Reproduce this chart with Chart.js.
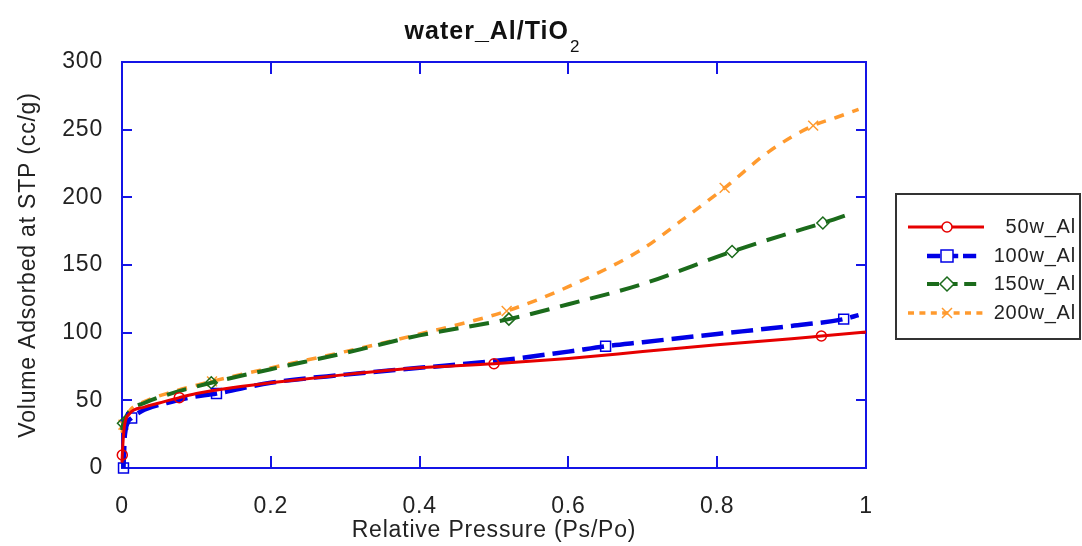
<!DOCTYPE html>
<html>
<head>
<meta charset="utf-8">
<script src="https://cdn.jsdelivr.net/npm/chart.js@4.4.1/dist/chart.umd.min.js"></script>
<style>
  html, body { margin: 0; padding: 0; background: #fff; }
</style>
</head>
<body>
<canvas id="chart" width="1082" height="546"></canvas>
<script>
// values
const seriesNames = ['50w_Al', '100w_Al', '150w_Al', '200w_Al'];

const x50 = [0, 0.0004, 0.003, 0.01, 0.03, 0.05, 0.077, 0.1, 0.15, 0.2, 0.3, 0.4, 0.5, 0.6, 0.7, 0.8, 0.9, 0.94, 1.0];
const y50 = [4, 9.6, 30, 40, 45, 48, 52, 55, 59.5, 63, 69, 74, 77, 81, 86, 91, 95.5, 97.5, 100.5];
const mk50 = [1, 6, 12, 17];

const x100 = [0.002, 0.004, 0.013, 0.03, 0.06, 0.09, 0.127, 0.2, 0.3, 0.4, 0.5, 0.6, 0.65, 0.7, 0.8, 0.9, 0.97, 0.99];
const y100 = [0, 25, 37, 43, 48, 52, 55, 63, 69, 74, 79, 86, 90, 93, 99, 105, 110, 113];
const mk100 = [0, 2, 6, 12, 16];

const x150 = [0, 0.002, 0.01, 0.03, 0.06, 0.12, 0.2, 0.3, 0.4, 0.52, 0.6, 0.7, 0.82, 0.9, 0.942, 0.985];
const y150 = [28, 33, 42, 48, 54, 63, 73, 85, 98, 110, 121, 136, 160, 174, 181, 189];
const mk150 = [1, 5, 9, 12, 14];

const x200 = [0, 0.002, 0.01, 0.03, 0.06, 0.121, 0.2, 0.3, 0.4, 0.517, 0.6, 0.7, 0.75, 0.81, 0.87, 0.929, 0.96, 0.99];
const y200 = [26, 32, 42, 49, 55, 64, 74, 86, 99, 116, 134, 162, 182, 207, 234, 253, 259, 265];
const mk200 = [1, 5, 9, 13, 15];

const xTicks = [0, 0.2, 0.4, 0.6, 0.8, 1];
const yTicks = [0, 50, 100, 150, 200, 250, 300];

const FONT = '"Liberation Sans", Arial, sans-serif';
const TEXT = '#222';
const FRAME = '#1414e6';

function pts(xs, ys) {
  return xs.map((x, i) => ({ x: x, y: ys[i] }));
}
function radii(n, marks, r) {
  const out = new Array(n).fill(0);
  marks.forEach(i => out[i] = r);
  return out;
}

const styles = [
  { color: '#e60000', width: 3, dash: [], point: 'circle', r: 5 },
  { color: '#0000e6', width: 4.5, dash: [22, 8], point: 'rect', r: 7 },
  { color: '#1b6b1b', width: 4, dash: [20, 11], point: 'rectRot', r: 6 },
  { color: '#ff9a2e', width: 3.5, dash: [10, 9], point: 'crossRot', r: 7 }
];
const xs = [x50, x100, x150, x200];
const ys = [y50, y100, y150, y200];
const mks = [mk50, mk100, mk150, mk200];

const datasets = seriesNames.map((name, k) => ({
  label: name,
  data: pts(xs[k], ys[k]),
  borderColor: styles[k].color,
  borderWidth: styles[k].width,
  borderDash: styles[k].dash,
  cubicInterpolationMode: 'monotone',
  pointStyle: styles[k].point,
  pointRadius: radii(xs[k].length, mks[k], styles[k].r),
  pointBorderColor: styles[k].color,
  pointBackgroundColor: 'rgba(255,255,255,0)',
  pointBorderWidth: 1.5,
  clip: false,
  fill: false
}));

// frame, inward tick marks, titles and the boxed legend
const decor = {
  id: 'decor',
  beforeDraw(chart) {
    chart.ctx.letterSpacing = '0.8px';
  },
  beforeDatasetsDraw(chart) {
    const ctx = chart.ctx;
    const a = chart.chartArea;
    const sx = chart.scales.x, sy = chart.scales.y;
    ctx.save();
    ctx.strokeStyle = FRAME;
    ctx.lineWidth = 2;
    ctx.strokeRect(a.left, a.top, a.right - a.left, a.bottom - a.top);
    ctx.beginPath();
    yTicks.forEach(v => {
      const py = Math.round(sy.getPixelForValue(v));
      ctx.moveTo(a.left, py); ctx.lineTo(a.left + 10, py);
      ctx.moveTo(a.right, py); ctx.lineTo(a.right - 10, py);
    });
    xTicks.forEach(v => {
      const px = Math.round(sx.getPixelForValue(v));
      ctx.moveTo(px, a.bottom); ctx.lineTo(px, a.bottom - 12);
      ctx.moveTo(px, a.top); ctx.lineTo(px, a.top + 12);
    });
    ctx.stroke();
    ctx.restore();
  },
  afterDraw(chart) {
    const ctx = chart.ctx;
    const a = chart.chartArea;
    const cx = (a.left + a.right) / 2;
    ctx.save();
    // title with subscript
    ctx.fillStyle = '#111';
    ctx.letterSpacing = '1px';
    ctx.textBaseline = 'alphabetic';
    ctx.textAlign = 'left';
    const main = 'water_Al/TiO';
    ctx.font = 'bold 25px ' + FONT;
    const wMain = ctx.measureText(main).width;
    ctx.font = '17px ' + FONT;
    const wSub = ctx.measureText('2').width;
    const tx = cx - (wMain + wSub) / 2 - 2;
    ctx.font = 'bold 25px ' + FONT;
    ctx.fillText(main, tx, 39);
    ctx.font = '17px ' + FONT;
    ctx.fillText('2', tx + wMain + 1, 52);

    // axis titles
    ctx.letterSpacing = '0.8px';
    ctx.fillStyle = TEXT;
    ctx.font = '23px ' + FONT;
    ctx.textAlign = 'center';
    ctx.textBaseline = 'middle';
    ctx.fillText('Relative Pressure (Ps/Po)', cx, 531);
    ctx.save();
    ctx.translate(29, (a.top + a.bottom) / 2);
    ctx.rotate(-Math.PI / 2);
    ctx.fillText('Volume Adsorbed at STP (cc/g)', 0, 0);
    ctx.restore();

    // legend box
    ctx.strokeStyle = '#333';
    ctx.lineWidth = 2;
    ctx.strokeRect(896, 194, 184, 145);
    const rows = [227, 256, 284, 313];
    const spans = [[908, 984], [927, 980], [927, 980], [908, 984]];
    seriesNames.forEach((name, k) => {
      const s = styles[k];
      const y = rows[k];
      ctx.strokeStyle = s.color;
      ctx.lineWidth = s.width;
      ctx.setLineDash(s.dash.map(d => d * 0.6));
      ctx.beginPath();
      ctx.moveTo(spans[k][0], y);
      ctx.lineTo(spans[k][1], y);
      ctx.stroke();
      ctx.setLineDash([]);
      const mx = 947;
      ctx.fillStyle = '#fff';
      ctx.lineWidth = 1.5;
      ctx.beginPath();
      if (s.point === 'circle') {
        ctx.arc(mx, y, 5, 0, Math.PI * 2);
        ctx.fill(); ctx.stroke();
      } else if (s.point === 'rect') {
        ctx.rect(mx - 6, y - 6, 12, 12);
        ctx.fill(); ctx.stroke();
      } else if (s.point === 'rectRot') {
        ctx.moveTo(mx, y - 7); ctx.lineTo(mx + 7, y); ctx.lineTo(mx, y + 7); ctx.lineTo(mx - 7, y); ctx.closePath();
        ctx.fill(); ctx.stroke();
      } else {
        ctx.moveTo(mx - 5, y - 5); ctx.lineTo(mx + 5, y + 5);
        ctx.moveTo(mx + 5, y - 5); ctx.lineTo(mx - 5, y + 5);
        ctx.stroke();
      }
      ctx.fillStyle = TEXT;
      ctx.letterSpacing = '0.8px';
      ctx.font = '20px ' + FONT;
      ctx.textAlign = 'right';
      ctx.textBaseline = 'middle';
      ctx.fillText(name, 1076, y);
    });
    ctx.restore();
  }
};

new Chart(document.getElementById('chart'), {
  type: 'line',
  data: { datasets: datasets },
  options: {
    responsive: false,
    animation: false,
    layout: { padding: { top: 62, right: 216, left: 0, bottom: 0 } },
    plugins: { legend: { display: false }, title: { display: false }, tooltip: { enabled: false } },
    scales: {
      x: {
        type: 'linear', min: 0, max: 1,
        afterBuildTicks: s => { s.ticks = xTicks.map(v => ({ value: v })); },
        afterFit: s => { s.height = 78; },
        grid: { display: false }, border: { display: false },
        ticks: { color: TEXT, font: { family: FONT, size: 23 }, padding: 17, maxRotation: 0,
                 callback: v => String(v) }
      },
      y: {
        type: 'linear', min: 0, max: 300,
        afterBuildTicks: s => { s.ticks = yTicks.map(v => ({ value: v })); },
        afterFit: s => { s.width = 122; },
        grid: { display: false }, border: { display: false },
        ticks: { color: TEXT, font: { family: FONT, size: 23 }, padding: 11 }
      }
    }
  },
  plugins: [decor]
});
</script>
</body>
</html>
